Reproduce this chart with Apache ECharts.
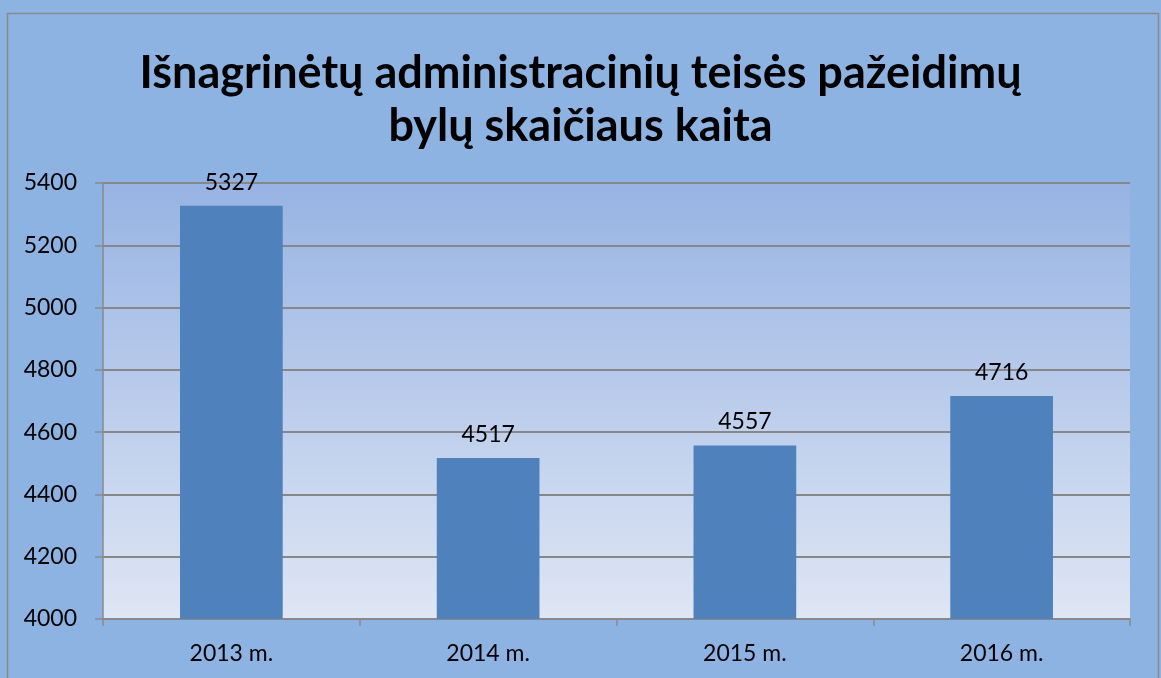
<!DOCTYPE html>
<html>
<head>
<meta charset="utf-8">
<script src="https://cdn.jsdelivr.net/npm/echarts@6/dist/echarts.min.js"></script>
<style>
  html, body { margin: 0; padding: 0; background: #8DB3E2; }
  #myChart { width: 1161px; height: 678px; }
</style>
</head>
<body>
<div id="myChart"></div>
<script>
// duomenys
const years = ["2013 m.", "2014 m.", "2015 m.", "2016 m."];
const cases = [5327, 4517, 4557, 4716];
const titleText = "Išnagrinėtų administracinių teisės pažeidimų\nbylų skaičiaus kaita";

let myChart = echarts.init(document.getElementById("myChart"));
let option = {
  backgroundColor: "#8DB3E2",
  textStyle: { fontFamily: "Lato" },
  title: {
    text: titleText,
    left: "center",
    top: 42,
    textStyle: {
      fontFamily: "Lato",
      fontWeight: "bold",
      fontSize: 45,
      lineHeight: 53,
      color: "#000"
    }
  },
  graphic: [
    {
      type: "rect",
      shape: { x: 7.5, y: 13.5, width: 1151, height: 700 },
      style: { fill: "none", stroke: "#8a8a8a", lineWidth: 1.5 },
      silent: true
    }
  ],
  grid: {
    left: 103,
    right: 31,
    top: 183,
    bottom: 59,
    show: true,
    borderWidth: 0,
    backgroundColor: new echarts.graphic.LinearGradient(0, 0, 0, 1, [
      { offset: 0, color: "#97B3E3" },
      { offset: 1, color: "#DFE6F4" }
    ])
  },
  xAxis: {
    type: "category",
    data: years,
    axisLine: { lineStyle: { color: "#8a8a8a", width: 1.5 } },
    axisTick: { show: true, length: 7, lineStyle: { color: "#8a8a8a", width: 1.5 } },
    axisLabel: { color: "#000", fontSize: 23, margin: 23 }
  },
  yAxis: {
    type: "value",
    min: 4000,
    max: 5400,
    interval: 200,
    axisLine: { show: true, lineStyle: { color: "#8a8a8a", width: 1.5 } },
    axisTick: { show: true, length: 8, lineStyle: { color: "#8a8a8a", width: 1.5 } },
    axisLabel: { color: "#000", fontSize: 23, margin: 26, formatter: v => String(v) },
    splitLine: { lineStyle: { color: "#878787", width: 2 } }
  },
  series: [
    {
      type: "bar",
      data: cases,
      barWidth: "40%",
      itemStyle: { color: "#4F81BD" },
      label: {
        show: true,
        position: "top",
        distance: 12,
        color: "#000",
        fontSize: 23
      }
    }
  ]
};
myChart.setOption(option);
</script>
</body>
</html>
